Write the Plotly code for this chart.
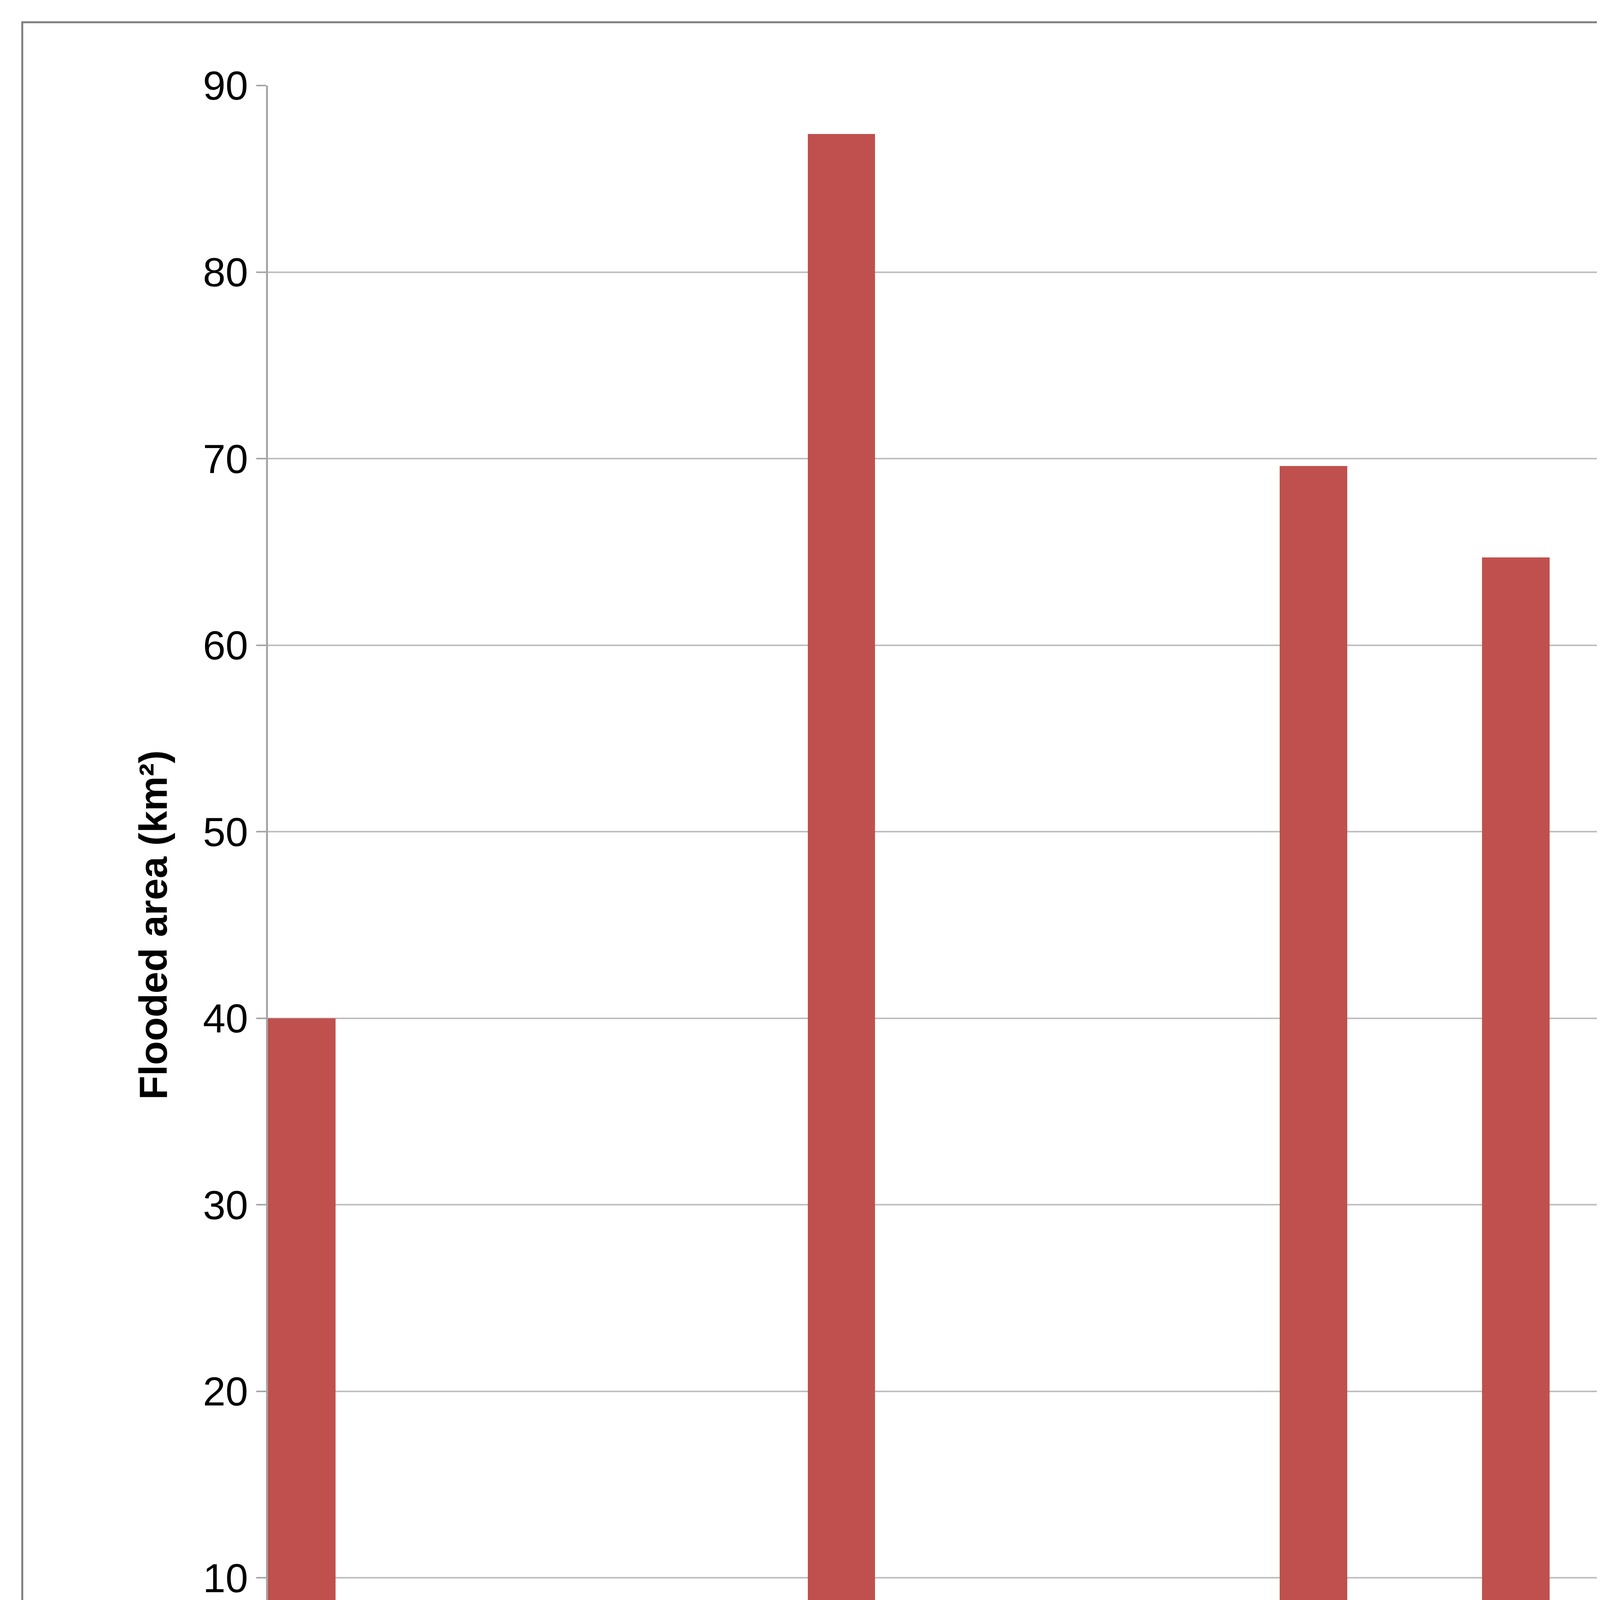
import plotly.graph_objects as go

years = [str(y) for y in range(1979, 2011)]
area = [40, 0, 0, 0, 0, 0, 0, 8.3, 87.4, 0, 0, 0, 8, 0, 1.3, 69.6, 0, 0.5,
        64.7, 1.4, 3.9, 2.6, 0, 3.3, 1.6, 14.8, 0, 3.4, 0, 0, 7.2, 0]

fig = go.Figure(go.Bar(x=years, y=area, marker=dict(color="#C0504D", line=dict(width=0))))

W, H = 6370, 5100
l, r, t, b = 678, 166, 211, 591
pw, ph = W - l - r, H - t - b

fig.update_layout(
    width=W, height=H,
    margin=dict(l=l, r=r, t=t, b=b),
    plot_bgcolor="white", paper_bgcolor="white",
    bargap=0,
    font=dict(family="Liberation Sans, Arial", size=104, color="black"),
    showlegend=False,
    xaxis=dict(type="category", tickangle=-90, showgrid=False,
               showline=True, linecolor="#a6a6a6", linewidth=5,
               ticks="outside", ticklen=25, tickcolor="#a6a6a6", tickwidth=4),
    yaxis=dict(range=[0, 90], dtick=10, showgrid=True, gridcolor="#bfbfbf", gridwidth=4,
               showline=True, linecolor="#a6a6a6", linewidth=5, zeroline=False,
               ticks="outside", ticklen=25, tickcolor="#a6a6a6", tickwidth=4,
               title=dict(text="<b>Flooded area (km²)</b>", font=dict(size=100), standoff=60)),
    shapes=[dict(type="rect", xref="paper", yref="paper",
                 x0=(49 - l) / pw, x1=(6317 - l) / pw,
                 y0=(H - b - 5050) / ph, y1=(H - b - 49) / ph,
                 line=dict(color="#7f7f7f", width=5))],
)

fig.write_html("out.html")
